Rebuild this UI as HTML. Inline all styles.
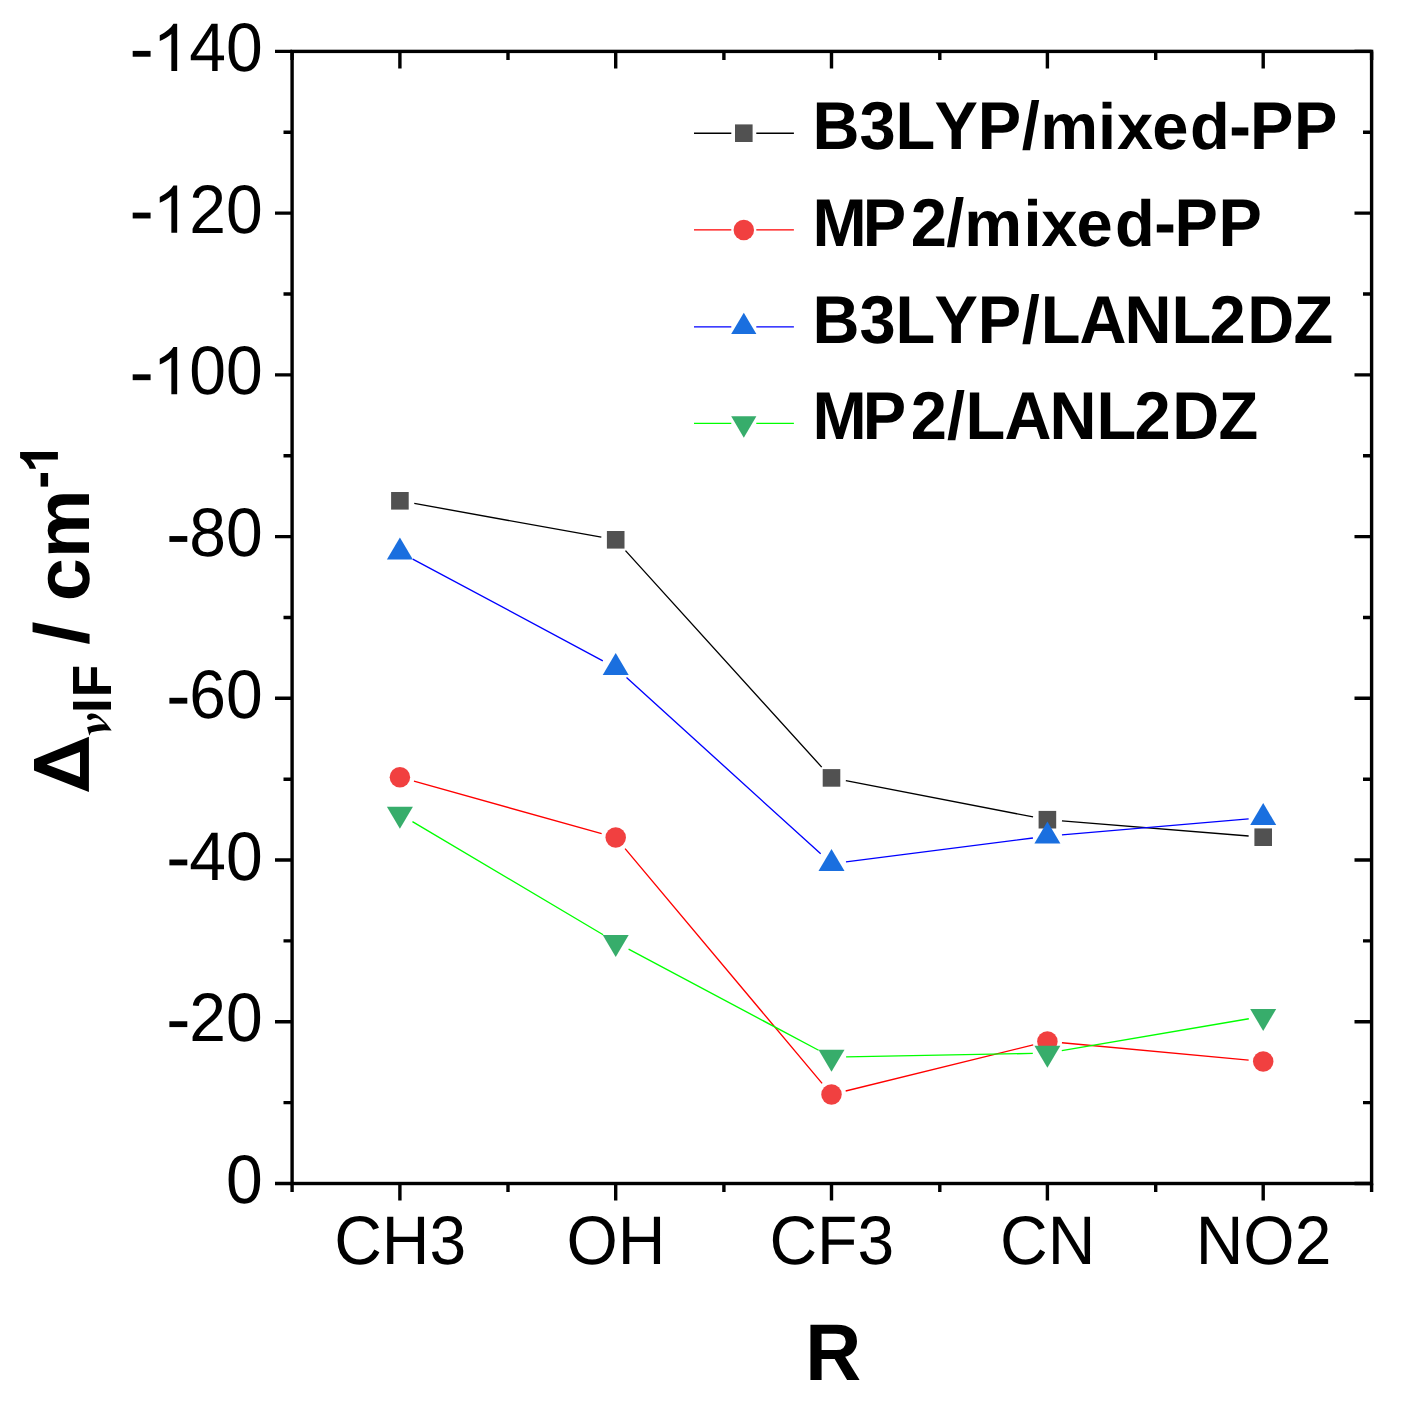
<!DOCTYPE html>
<html><head><meta charset="utf-8"><title>chart</title>
<style>
html,body{margin:0;padding:0;background:#fff;}
body{width:1401px;height:1416px;overflow:hidden;}
svg{display:block;}
text{font-family:"Liberation Sans",sans-serif;fill:#000;font-kerning:none;font-variant-ligatures:none;text-rendering:geometricPrecision;}
.b{font-weight:bold;}
.nu{font-family:"Liberation Serif",serif;font-style:italic;font-weight:bold;}
</style></head><body>
<svg width="1401" height="1416" viewBox="0 0 1401 1416">
<rect x="0" y="0" width="1401" height="1416" fill="#fff"/>
<g stroke="#000" stroke-width="3.40" fill="none" stroke-linecap="butt">
<rect x="292.10" y="51.40" width="1079.50" height="1132.10"/>
<path d="M275.00 51.40H292.10 M1354.50 51.40H1371.60"/>
<path d="M283.50 132.26H292.10 M1363.00 132.26H1371.60"/>
<path d="M275.00 213.13H292.10 M1354.50 213.13H1371.60"/>
<path d="M283.50 293.99H292.10 M1363.00 293.99H1371.60"/>
<path d="M275.00 374.86H292.10 M1354.50 374.86H1371.60"/>
<path d="M283.50 455.72H292.10 M1363.00 455.72H1371.60"/>
<path d="M275.00 536.59H292.10 M1354.50 536.59H1371.60"/>
<path d="M283.50 617.45H292.10 M1363.00 617.45H1371.60"/>
<path d="M275.00 698.31H292.10 M1354.50 698.31H1371.60"/>
<path d="M283.50 779.18H292.10 M1363.00 779.18H1371.60"/>
<path d="M275.00 860.04H292.10 M1354.50 860.04H1371.60"/>
<path d="M283.50 940.91H292.10 M1363.00 940.91H1371.60"/>
<path d="M275.00 1021.77H292.10 M1354.50 1021.77H1371.60"/>
<path d="M283.50 1102.64H292.10 M1363.00 1102.64H1371.60"/>
<path d="M275.00 1183.50H292.10 M1354.50 1183.50H1371.60"/>
<path d="M292.10 51.40V60.00 M292.10 1183.50V1192.10"/>
<path d="M508.00 51.40V60.00 M508.00 1183.50V1192.10"/>
<path d="M723.90 51.40V60.00 M723.90 1183.50V1192.10"/>
<path d="M939.80 51.40V60.00 M939.80 1183.50V1192.10"/>
<path d="M1155.70 51.40V60.00 M1155.70 1183.50V1192.10"/>
<path d="M1371.60 51.40V60.00 M1371.60 1183.50V1192.10"/>
<path d="M399.90 51.40V68.50 M399.90 1183.50V1200.60"/>
<path d="M615.70 51.40V68.50 M615.70 1183.50V1200.60"/>
<path d="M831.50 51.40V68.50 M831.50 1183.50V1200.60"/>
<path d="M1047.40 51.40V68.50 M1047.40 1183.50V1200.60"/>
<path d="M1263.20 51.40V68.50 M1263.20 1183.50V1200.60"/>
</g>
<path d="M414.27 503.40L601.33 537.20M625.50 550.62L821.70 767.08M845.83 780.68L1033.07 816.92M1061.95 820.88L1248.65 836.02" stroke="#000" stroke-width="1.35" fill="none"/>
<rect x="391.10" y="492.00" width="17.60" height="17.60" fill="#515151"/>
<rect x="606.90" y="531.00" width="17.60" height="17.60" fill="#515151"/>
<rect x="822.70" y="769.10" width="17.60" height="17.60" fill="#515151"/>
<rect x="1038.60" y="810.90" width="17.60" height="17.60" fill="#515151"/>
<rect x="1254.40" y="828.40" width="17.60" height="17.60" fill="#515151"/>
<path d="M413.96 781.22L601.64 833.58M625.09 848.68L822.11 1083.32M845.68 1091.01L1033.22 1044.89M1061.94 1042.75L1248.66 1060.15" stroke="#f00" stroke-width="1.35" fill="none"/>
<circle cx="399.90" cy="777.30" r="10.25" fill="#f14040"/>
<circle cx="615.70" cy="837.50" r="10.25" fill="#f14040"/>
<circle cx="831.50" cy="1094.50" r="10.25" fill="#f14040"/>
<circle cx="1047.40" cy="1041.40" r="10.25" fill="#f14040"/>
<circle cx="1263.20" cy="1061.50" r="10.25" fill="#f14040"/>
<path d="M412.77 559.06L602.83 660.78M626.51 677.48L820.69 853.85M845.98 861.82L1032.92 838.01M1061.95 834.92L1248.65 818.91" stroke="#00f" stroke-width="1.35" fill="none"/>
<path d="M399.90 537.50L412.90 559.50L386.90 559.50Z" fill="#1a6fdf"/>
<path d="M615.70 653.00L628.70 675.00L602.70 675.00Z" fill="#1a6fdf"/>
<path d="M831.50 849.00L844.50 871.00L818.50 871.00Z" fill="#1a6fdf"/>
<path d="M1047.40 821.50L1060.40 843.50L1034.40 843.50Z" fill="#1a6fdf"/>
<path d="M1263.20 803.00L1276.20 825.00L1250.20 825.00Z" fill="#1a6fdf"/>
<path d="M412.45 821.59L603.15 934.78M628.59 949.09L818.61 1050.27M846.10 1056.86L1032.80 1053.40M1061.79 1050.68L1248.81 1018.79" stroke="#0f0" stroke-width="1.35" fill="none"/>
<path d="M386.90 806.80L412.90 806.80L399.90 828.80Z" fill="#37ad6b"/>
<path d="M602.70 934.90L628.70 934.90L615.70 956.90Z" fill="#37ad6b"/>
<path d="M818.50 1049.80L844.50 1049.80L831.50 1071.80Z" fill="#37ad6b"/>
<path d="M1034.40 1045.80L1060.40 1045.80L1047.40 1067.80Z" fill="#37ad6b"/>
<path d="M1250.20 1009.00L1276.20 1009.00L1263.20 1031.00Z" fill="#37ad6b"/>
<path d="M694.00 133.20H731.30 M756.30 133.20H793.90" stroke="#000" stroke-width="1.35" fill="none"/>
<path d="M694.00 229.90H731.30 M756.30 229.90H793.90" stroke="#f00" stroke-width="1.35" fill="none"/>
<path d="M694.00 326.90H731.30 M756.30 326.90H793.90" stroke="#00f" stroke-width="1.35" fill="none"/>
<path d="M694.00 423.40H731.30 M756.30 423.40H793.90" stroke="#0f0" stroke-width="1.35" fill="none"/>
<rect x="735.00" y="124.40" width="17.60" height="17.60" fill="#515151"/>
<circle cx="743.80" cy="229.90" r="10.25" fill="#f14040"/>
<path d="M743.80 312.63L756.40 334.03L731.20 334.03Z" fill="#1a6fdf"/>
<path d="M731.20 416.27L756.40 416.27L743.80 437.67Z" fill="#37ad6b"/>
<text transform="translate(0 149.00) scale(1 1.040)" x="812.4 859.4 895.6 934.5 977.7 1021.7" font-size="65.05" class="b">B3LYP/</text>
<text transform="translate(0 149.00) scale(1 1.000)" x="1040.2 1098.0 1117.0 1152.3 1190.1" font-size="65.05" class="b">mixed</text>
<text transform="translate(0 149.00) scale(1 1.040)" x="1229.2 1249.9 1293.9" font-size="65.05" class="b">-PP</text>
<text transform="translate(0 245.80) scale(1 1.040)" x="812.4 862.7 910.8 946.2" font-size="65.05" class="b">MP2/</text>
<text transform="translate(0 245.80) scale(1 1.000)" x="964.3 1023.4 1041.2 1076.4 1115.0" font-size="65.05" class="b">mixed</text>
<text transform="translate(0 245.80) scale(1 1.040)" x="1154.3 1174.6 1218.4" font-size="65.05" class="b">-PP</text>
<text transform="translate(0 342.50) scale(1 1.040)" x="812.4 859.4 895.6 934.5 977.7 1021.7 1040.7 1079.6 1124.6 1171.6 1209.6 1247.3 1293.5" font-size="65.05" class="b">B3LYP/LANL2DZ</text>
<text transform="translate(0 439.10) scale(1 1.040)" x="812.4 862.7 910.8 947.1 965.6 1004.6 1049.6 1096.6 1134.6 1172.3 1218.5" font-size="65.05" class="b">MP2/LANL2DZ</text>
<rect x="132.69" y="50.89" width="17.89" height="5.83" fill="#000"/>
<path transform="translate(152.57 70.90) scale(0.03223 -0.03223)" d="M763 0H583V1147Q518 1085 412.5 1023T223 930V1104Q372 1174 484 1274T647 1466H763Z" fill="#000"/>
<text transform="translate(189.28 70.90) scale(1 1.040)" font-size="66.00">40</text>
<rect x="132.69" y="212.62" width="17.89" height="5.83" fill="#000"/>
<path transform="translate(152.57 232.63) scale(0.03223 -0.03223)" d="M763 0H583V1147Q518 1085 412.5 1023T223 930V1104Q372 1174 484 1274T647 1466H763Z" fill="#000"/>
<text transform="translate(189.28 232.63) scale(1 1.040)" font-size="66.00">20</text>
<rect x="132.69" y="374.34" width="17.89" height="5.83" fill="#000"/>
<path transform="translate(152.57 394.36) scale(0.03223 -0.03223)" d="M763 0H583V1147Q518 1085 412.5 1023T223 930V1104Q372 1174 484 1274T647 1466H763Z" fill="#000"/>
<text transform="translate(189.28 394.36) scale(1 1.040)" font-size="66.00">00</text>
<rect x="169.40" y="536.07" width="17.89" height="5.83" fill="#000"/>
<text transform="translate(189.28 556.09) scale(1 1.040)" font-size="66.00">80</text>
<rect x="169.40" y="697.80" width="17.89" height="5.83" fill="#000"/>
<text transform="translate(189.28 717.81) scale(1 1.040)" font-size="66.00">60</text>
<rect x="169.40" y="859.53" width="17.89" height="5.83" fill="#000"/>
<text transform="translate(189.28 879.54) scale(1 1.040)" font-size="66.00">40</text>
<rect x="169.40" y="1021.26" width="17.89" height="5.83" fill="#000"/>
<text transform="translate(189.28 1041.27) scale(1 1.040)" font-size="66.00">20</text>
<text transform="translate(225.99 1203.00) scale(1 1.040)" font-size="66.00">0</text>
<text transform="translate(400.20 1264.00) scale(1 1.040)" font-size="66.00" text-anchor="middle">CH3</text>
<text transform="translate(616.00 1264.00) scale(1 1.040)" font-size="66.00" text-anchor="middle">OH</text>
<text transform="translate(831.80 1264.00) scale(1 1.040)" font-size="66.00" text-anchor="middle">CF3</text>
<text transform="translate(1047.70 1264.00) scale(1 1.040)" font-size="66.00" text-anchor="middle">CN</text>
<text transform="translate(1263.50 1264.00) scale(1 1.040)" font-size="66.00" text-anchor="middle">NO2</text>
<text transform="translate(833.20 1380.00) scale(1 1.035)" font-size="77.50" text-anchor="middle" class="b">R</text>
<path fill-rule="evenodd" d="M88.9 736.7V792L34 770.5V759.2ZM80 752L46.7 764.5L80 777Z" fill="#000"/>
<path d="M87.1 727.3L89.4 735.7Q90.2 733 91.4 732.3Q97 730.8 104.3 730.3L111.7 730.4Q106.5 722.5 100 716.9Q95 713 90.9 713.5Q87.2 714.2 87 717.1Q87.3 720 90.3 720Q91.8 719.6 92.9 718.6Q95.4 717.2 98.3 718.6Q101.7 721.1 105.1 724.3Q98.6 724.3 92.9 725.4Q89.5 726.2 87.1 727.3Z" fill="#000"/>
<text transform="translate(111.20 712.95) rotate(-90) scale(1.0000 1.0400)" font-size="53.10" class="b">I</text>
<text transform="translate(111.20 697.15) rotate(-90) scale(1.0000 1.0400)" font-size="53.10" class="b">F</text>
<text transform="translate(88.47 644.72) rotate(-90) scale(1.0840 0.9877)" font-size="77.50" class="b">/</text>
<text transform="translate(89.30 601.23) rotate(-90) scale(1.0000 0.9900)" font-size="77.50" class="b">cm</text>
<rect x="40.6" y="473.0" width="7.5" height="13.6" fill="#000"/>
<path transform="translate(57.9 473.00) rotate(-90) scale(0.02593 -0.02568)" d="M806 0H525V1059Q371 915 162 846V1101Q272 1137 401 1237.5T578 1472H806Z" fill="#000"/>
</svg>
</body></html>
